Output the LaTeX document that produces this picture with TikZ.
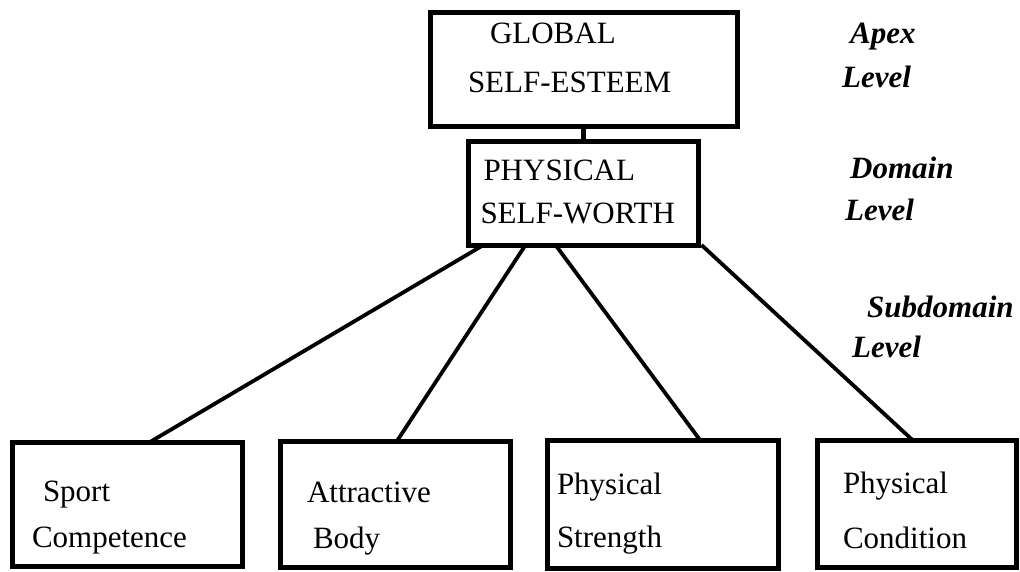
\documentclass[tikz,border=0pt]{standalone}
\usepackage{fontspec}
\setmainfont{Liberation Serif}
\usepackage{tikz}
\usetikzlibrary{positioning}

\begin{document}
\begin{tikzpicture}[x=1pt,y=-1pt,
  box/.style={draw,line width=5pt,inner ysep=0pt,outer sep=0pt,align=left},
  conn/.style={line width=3.8pt},
  lvl/.style={inner sep=0pt,anchor=base west,align=left}
]
  \useasboundingbox (0,0) rectangle (1020,571);
  % apex and domain
  \node[box,text width=231pt,inner xsep=38pt,text height=31.3pt,text depth=82.7pt,font=\fontsize{31}{49}\selectfont] (global) at (583.5,69) {\hspace*{22pt}GLOBAL\\SELF-ESTEEM};
  \node[box,below=15pt of global,text width=206pt,inner xsep=12pt,text height=39.3pt,text depth=64.7pt,font=\fontsize{31}{43}\selectfont] (phys) {\hspace*{3pt}PHYSICAL\\SELF-WORTH};
  % subdomains
  \node[box,text width=190pt,inner xsep=20pt,text height=59pt,text depth=65pt,font=\fontsize{31}{46}\selectfont] (sport) at (127,504) {\hspace*{11pt}Sport\\Competence};
  \node[box,right=38pt of sport,text width=176pt,inner xsep=27pt,text height=61pt,text depth=65pt,font=\fontsize{31}{46}\selectfont] (body) {Attractive\\\hspace*{6pt}Body};
  \node[box,right=37pt of body,text width=211pt,inner xsep=10pt,text height=54pt,text depth=74pt,font=\fontsize{31}{53}\selectfont] (strength) {Physical\\Strength};
  \node[box,right=39pt of strength,text width=147pt,inner xsep=26pt,text height=53pt,text depth=74pt,font=\fontsize{31}{55}\selectfont] (condition) {Physical\\Condition};
  \draw[conn,line width=5pt] (global.south) -- (global.south |- phys.north);
  \draw[conn] ([xshift=15pt]phys.south west) -- ([xshift=138pt]sport.north west);
  \draw[conn] ([xshift=57pt]phys.south west) -- ([xshift=117pt]body.north west);
  \draw[conn] ([xshift=87pt]phys.south west) -- ([xshift=153pt]strength.north west);
  \draw[conn] ([xshift=3pt]phys.south east) -- ([xshift=96pt]condition.north west);
  % level labels
  \node[lvl,text width=90pt,font=\bfseries\itshape\fontsize{31}{44}\selectfont] (apexlvl) at (842,43) {\hspace*{8pt}Apex\\Level};
  \node[lvl,text width=120pt,font=\bfseries\itshape\fontsize{31}{42}\selectfont] (domlvl) at (845,178) {\hspace*{5pt}Domain\\Level};
  \node[lvl,text width=165pt,font=\bfseries\itshape\fontsize{31}{40}\selectfont] (sublvl) at (852,317) {\hspace*{15pt}Subdomain\\Level};
\end{tikzpicture}
\end{document}
